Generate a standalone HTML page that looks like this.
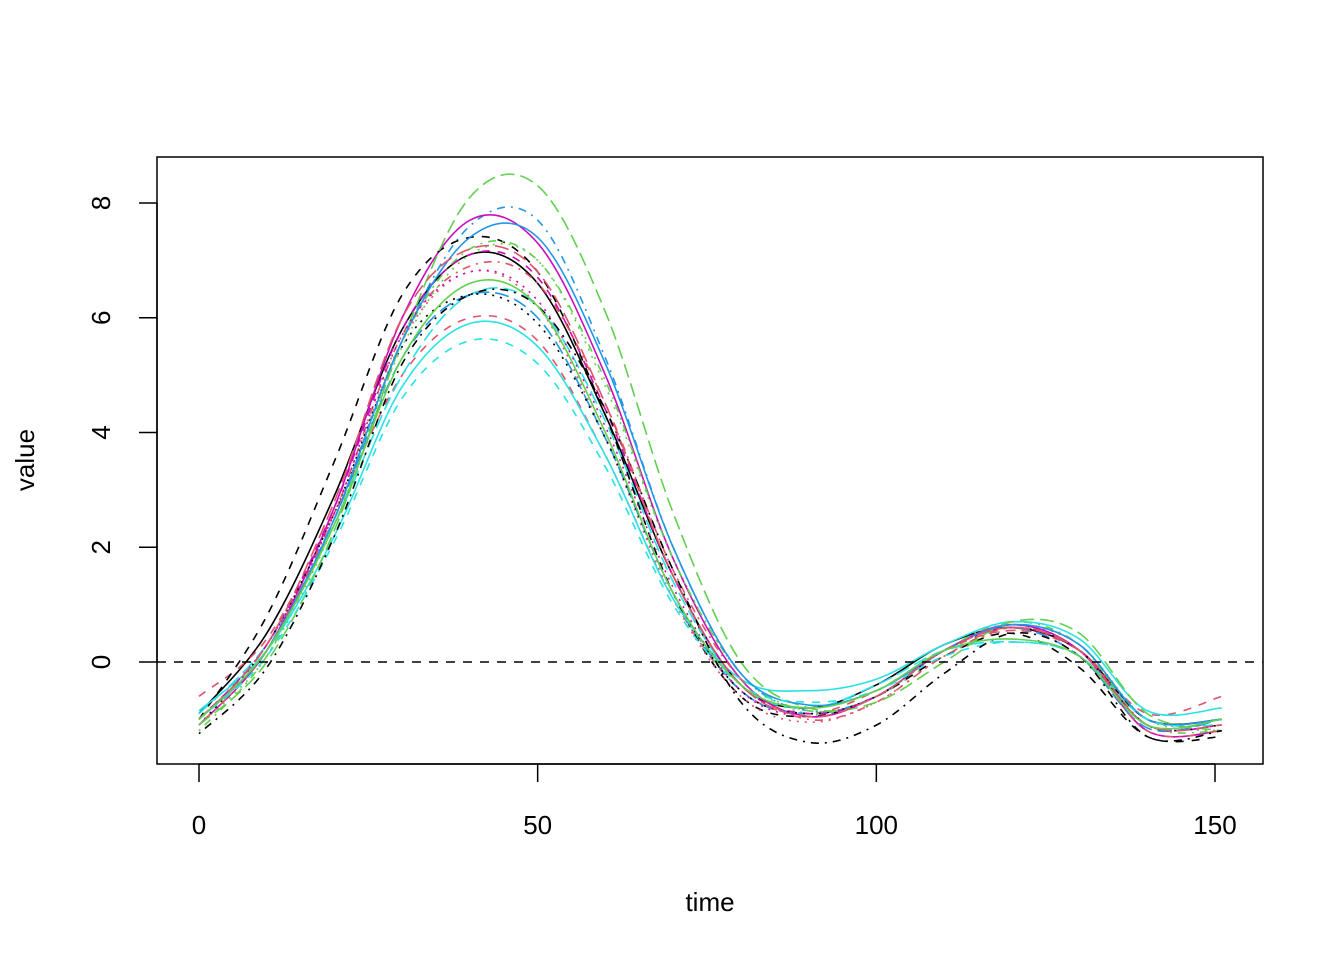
<!DOCTYPE html>
<html><head><meta charset="utf-8"><style>
html,body{margin:0;padding:0;background:#fff}
svg{display:block;font-family:"Liberation Sans",Arial,sans-serif}
</style></head><body>
<svg id="chart" width="1344" height="960" viewBox="0 0 1344 960" xmlns="http://www.w3.org/2000/svg">
<rect width="1344" height="960" fill="#fff"/>
<g id="series"></g>
<line x1="157" x2="1263" y1="662" y2="662" stroke="#000" stroke-width="1.5" stroke-dasharray="9,8"/>
<rect x="157" y="157" width="1106" height="607" fill="none" stroke="#000" stroke-width="1.5"/>
<g id="xaxis"></g>
<g id="yaxis"></g>
<text x="710" y="911" font-size="26" text-anchor="middle">time</text>
<text transform="translate(34,460) rotate(-90)" font-size="26" text-anchor="middle">value</text>
</svg>
<script>
const times = [0,10,20,30,40,50,60,70,80,90,100,110,120,130,140,151];
const xTicks = [0,50,100,150];
const yTicks = [0,2,4,6,8];
const s1 = [-0.9,0.5,2.9,5.8,7.1,6.6,4.3,1.5,-0.4,-0.8,-0.4,0.3,0.6,0.2,-1.0,-1.0];
const s2 = [-0.6,0.4,2.6,5.0,6.0,5.6,3.6,1.1,-0.5,-0.9,-0.5,0.2,0.55,0.2,-0.9,-0.6];
const s3 = [-1.1,0.1,2.4,5.5,7.1,7.0,4.8,1.8,-0.2,-0.9,-0.6,0.1,0.6,0.3,-1.0,-1.2];
const s4 = [-1.0,0.2,2.5,5.6,7.6,7.7,5.3,2.0,-0.2,-0.85,-0.6,0.2,0.65,0.3,-1.0,-1.0];
const s5 = [-0.9,0.3,2.4,5.0,6.4,6.2,4.2,1.4,-0.4,-0.8,-0.4,0.2,0.35,0.1,-1.1,-1.1];
const s6 = [-1.1,0.2,2.7,6.0,7.7,7.3,5.0,1.8,-0.3,-0.95,-0.6,0.2,0.65,0.2,-1.2,-1.2];
const s7 = [-1.0,0.8,3.5,6.4,7.4,6.8,4.3,1.2,-0.6,-0.95,-0.6,0.1,0.5,-0.1,-1.3,-1.3];
const s8 = [-1.0,0.2,2.5,5.6,6.8,6.2,3.9,1.1,-0.6,-1.05,-0.7,0.1,0.55,0.2,-1.0,-1.1];
const s9 = [-1.2,0.1,2.5,5.6,7.2,7.0,4.9,1.8,-0.2,-0.85,-0.6,0.2,0.7,0.3,-1.1,-1.2];
const s10 = [-1.0,0.2,2.5,5.3,6.4,6.0,3.9,1.2,-0.5,-0.9,-0.6,0.2,0.6,0.1,-1.15,-1.0];
const s11 = [-0.85,0.2,2.2,4.8,5.9,5.5,3.6,1.1,-0.3,-0.5,-0.3,0.3,0.7,0.4,-0.85,-0.8];
const s12 = [-1.0,0.3,2.7,5.8,7.1,6.7,4.4,1.5,-0.4,-0.9,-0.6,0.2,0.6,0.2,-1.1,-1.1];
const s13 = [-1.1,0.3,2.6,5.5,6.4,5.9,3.9,1.2,-0.5,-0.9,-0.6,0.2,0.6,0.2,-1.1,-1.1];
const s14 = [-1.1,0.2,2.6,5.7,6.9,6.6,4.5,1.6,-0.3,-1.0,-0.7,0.1,0.6,0.2,-1.2,-1.2];
const s15 = [-1.1,0.0,2.3,5.6,8.1,8.3,6.1,2.6,0.0,-0.8,-0.7,0.0,0.7,0.5,-0.9,-1.2];
const s16 = [-1.0,0.2,2.5,5.6,7.4,7.4,5.2,2.0,-0.2,-0.75,-0.5,0.2,0.65,0.3,-1.0,-1.0];
const s17 = [-1.0,0.1,2.1,4.6,5.6,5.2,3.4,1.0,-0.4,-0.7,-0.5,0.1,0.35,0.1,-1.0,-1.1];
const s18 = [-1.0,0.3,2.6,5.7,6.8,6.3,4.1,1.3,-0.5,-0.95,-0.6,0.2,0.6,0.2,-1.1,-1.1];
const s19 = [-1.25,-0.1,2.2,5.2,6.4,6.2,4.4,1.6,-0.7,-1.4,-1.1,-0.2,0.5,0.1,-1.3,-1.2];
const s20 = [-1.0,0.3,2.8,6.0,7.2,6.8,4.5,1.5,-0.4,-0.95,-0.6,0.2,0.6,0.2,-1.1,-1.1];
const s21 = [-1.0,0.2,2.4,5.3,6.6,6.2,4.0,1.2,-0.4,-0.8,-0.5,0.2,0.4,0.1,-1.1,-1.0];
const allSeries = [s1,s2,s3,s4,s5,s6,s7,s8,s9,s10,s11,s12,s13,s14,s15,s16,s17,s18,s19,s20,s21];

const colors = ["#000000","#DF536B","#61D04F","#2297E6","#28E2E5","#CD0BBC"];
const dashes = ["none","8,8","2,6","2,6,8,6","14,6"];
const NS = "http://www.w3.org/2000/svg";
function xs(t){return 199 + t*(1016/150);}
function ys(v){return 662 - v*(459/8);}

const g = document.getElementById("series");
allSeries.forEach((s,i)=>{
  const pts = s.map((v,k)=>[xs(times[k]),ys(v)]);
  let d = "M"+pts[0][0].toFixed(2)+","+pts[0][1].toFixed(2);
  for(let k=0;k<pts.length-1;k++){
    const p0=pts[Math.max(0,k-1)],p1=pts[k],p2=pts[k+1],p3=pts[Math.min(pts.length-1,k+2)];
    const c1=[p1[0]+(p2[0]-p0[0])/6,p1[1]+(p2[1]-p0[1])/6];
    const c2=[p2[0]-(p3[0]-p1[0])/6,p2[1]-(p3[1]-p1[1])/6];
    d+=" C"+c1[0].toFixed(2)+","+c1[1].toFixed(2)+" "+c2[0].toFixed(2)+","+c2[1].toFixed(2)+" "+p2[0].toFixed(2)+","+p2[1].toFixed(2);
  }
  const p=document.createElementNS(NS,"path");
  p.setAttribute("d",d);
  p.setAttribute("fill","none");
  p.setAttribute("stroke",colors[i%6]);
  p.setAttribute("stroke-width","1.6");
  if(dashes[i%5]!=="none")p.setAttribute("stroke-dasharray",dashes[i%5]);
  
  
  g.appendChild(p);
});

const xa=document.getElementById("xaxis");
const xl=document.createElementNS(NS,"line");
xl.setAttribute("x1",xs(xTicks[0]));xl.setAttribute("x2",xs(xTicks[xTicks.length-1]));
xl.setAttribute("y1",764);xl.setAttribute("y2",764);xl.setAttribute("stroke","#000");xl.setAttribute("stroke-width","1.5");


xa.appendChild(xl);
xTicks.forEach(t=>{
  const l=document.createElementNS(NS,"line");
  l.setAttribute("x1",xs(t));l.setAttribute("x2",xs(t));l.setAttribute("y1",764);l.setAttribute("y2",782);
  l.setAttribute("stroke","#000");l.setAttribute("stroke-width","1.5");
  
  
  xa.appendChild(l);
  const tx=document.createElementNS(NS,"text");
  tx.setAttribute("x",xs(t));tx.setAttribute("y",834);tx.setAttribute("font-size","26");tx.setAttribute("text-anchor","middle");
  tx.textContent=t;
  
  
  xa.appendChild(tx);
});
const ya=document.getElementById("yaxis");
const yl=document.createElementNS(NS,"line");
yl.setAttribute("x1",157);yl.setAttribute("x2",157);
yl.setAttribute("y1",ys(yTicks[0]));yl.setAttribute("y2",ys(yTicks[yTicks.length-1]));yl.setAttribute("stroke","#000");yl.setAttribute("stroke-width","1.5");


ya.appendChild(yl);
yTicks.forEach(v=>{
  const l=document.createElementNS(NS,"line");
  l.setAttribute("x1",139);l.setAttribute("x2",157);l.setAttribute("y1",ys(v));l.setAttribute("y2",ys(v));
  l.setAttribute("stroke","#000");l.setAttribute("stroke-width","1.5");
  
  
  ya.appendChild(l);
  const tx=document.createElementNS(NS,"text");
  tx.setAttribute("transform","translate(110,"+ys(v)+") rotate(-90)");
  tx.setAttribute("font-size","26");tx.setAttribute("text-anchor","middle");
  tx.textContent=v;
  
  
  ya.appendChild(tx);
});
</script>
</body></html>
